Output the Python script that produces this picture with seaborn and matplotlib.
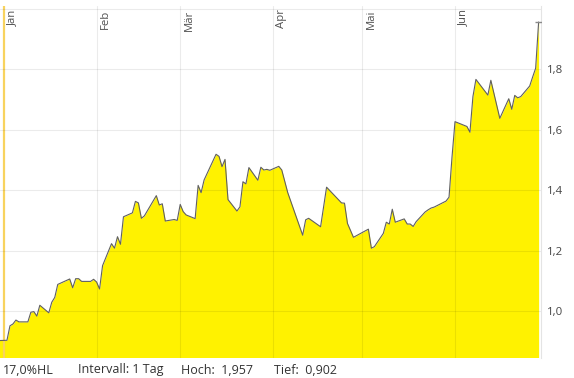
import pandas as pd
import seaborn as sns
import matplotlib.pyplot as plt
import matplotlib.dates as mdates
from matplotlib.transforms import offset_copy

# Kursverlauf (Schlusskurse)
dates = [
    "2022-12-30", "2023-01-02", "2023-01-03", "2023-01-04", "2023-01-05", "2023-01-06",
    "2023-01-09", "2023-01-10", "2023-01-11", "2023-01-12", "2023-01-13",
    "2023-01-16", "2023-01-17", "2023-01-18", "2023-01-19",
    "2023-01-23", "2023-01-24", "2023-01-25", "2023-01-26", "2023-01-27",
    "2023-01-30", "2023-01-31", "2023-02-01", "2023-02-02", "2023-02-03",
    "2023-02-06", "2023-02-07", "2023-02-08", "2023-02-09", "2023-02-10",
    "2023-02-13", "2023-02-14", "2023-02-15", "2023-02-16", "2023-02-17",
    "2023-02-21", "2023-02-22", "2023-02-23", "2023-02-24",
    "2023-02-27", "2023-02-28", "2023-03-01", "2023-03-02", "2023-03-03",
    "2023-03-06", "2023-03-07", "2023-03-08", "2023-03-09",
    "2023-03-13", "2023-03-14", "2023-03-15", "2023-03-16", "2023-03-17",
    "2023-03-20", "2023-03-21", "2023-03-22", "2023-03-23", "2023-03-24",
    "2023-03-27", "2023-03-28", "2023-03-29", "2023-03-30", "2023-03-31",
    "2023-04-03", "2023-04-04", "2023-04-06",
    "2023-04-11", "2023-04-12", "2023-04-13",
    "2023-04-17", "2023-04-19",
    "2023-04-24", "2023-04-25", "2023-04-26", "2023-04-28",
    "2023-05-03", "2023-05-04", "2023-05-05",
    "2023-05-08", "2023-05-09", "2023-05-10", "2023-05-11", "2023-05-12",
    "2023-05-15", "2023-05-16", "2023-05-17", "2023-05-18", "2023-05-19",
    "2023-05-22", "2023-05-23", "2023-05-24", "2023-05-25", "2023-05-26",
    "2023-05-29", "2023-05-30", "2023-05-31", "2023-06-01",
    "2023-06-05", "2023-06-06", "2023-06-07", "2023-06-08",
    "2023-06-12", "2023-06-13", "2023-06-16",
    "2023-06-19", "2023-06-20", "2023-06-21", "2023-06-22", "2023-06-23",
    "2023-06-26", "2023-06-27", "2023-06-28", "2023-06-29",
]
prices = [
    0.902, 0.903, 0.951, 0.957, 0.970, 0.964,
    0.964, 0.996, 0.998, 0.983, 1.019,
    0.994, 1.029, 1.045, 1.088,
    1.106, 1.077, 1.107, 1.107, 1.098,
    1.098, 1.105, 1.096, 1.073, 1.150,
    1.223, 1.208, 1.246, 1.221, 1.312,
    1.325, 1.363, 1.358, 1.307, 1.315,
    1.382, 1.351, 1.355, 1.298,
    1.303, 1.300, 1.353, 1.329, 1.318,
    1.306, 1.416, 1.392, 1.434,
    1.519, 1.512, 1.478, 1.502, 1.369,
    1.331, 1.345, 1.428, 1.421, 1.475,
    1.433, 1.476, 1.467, 1.469, 1.466,
    1.479, 1.467, 1.392,
    1.251, 1.302, 1.307,
    1.279, 1.410,
    1.358, 1.357, 1.290, 1.244,
    1.271, 1.208, 1.213,
    1.257, 1.294, 1.288, 1.337, 1.294,
    1.305, 1.288, 1.288, 1.280, 1.296,
    1.328, 1.335, 1.341, 1.344, 1.349,
    1.364, 1.377, 1.510, 1.627,
    1.611, 1.592, 1.710, 1.767,
    1.715, 1.764, 1.638,
    1.703, 1.668, 1.714, 1.706, 1.710,
    1.745, 1.775, 1.804, 1.957,
]
month_starts = ["2023-02-01", "2023-03-01", "2023-04-01", "2023-05-01", "2023-06-01"]
month_labels = ["Jan", "Feb", "Mär", "Apr", "Mai", "Jun"]
y_ticks = [1.0, 1.2, 1.4, 1.6, 1.8, 2.0]
y_labels = ["1,0", "1,2", "1,4", "1,6", "1,8", ""]
footer = ["17,0%HL", "Intervall: 1 Tag", "Hoch:  1,957", "Tief:  0,902"]
footer_x = [3, 78, 181, 274]

df = pd.DataFrame({"Datum": pd.to_datetime(dates), "Kurs": prices})

sns.set_style("white")
plt.rcParams["font.family"] = ["Open Sans", "DejaVu Sans"]

fig = plt.figure(figsize=(5.74, 3.78), dpi=100)
ax = fig.add_axes([0.0, 20.5 / 378, 541 / 574, 351.5 / 378])

y_bottom = 0.846
ax.fill_between(df["Datum"], df["Kurs"], y_bottom, color="#fff200", lw=0, zorder=1)
sns.lineplot(data=df, x="Datum", y="Kurs", ax=ax, color="#606060", lw=0.8, zorder=3)
ax.plot(df["Datum"].iloc[-1], df["Kurs"].iloc[-1], marker="_", ms=6, mew=1,
        color="#8a8a8a", zorder=4)

jan1 = pd.Timestamp("2023-01-01")
ax.axvline(jan1, color="#f8d35e", lw=1.6, zorder=2)
for m in month_starts:
    ax.axvline(pd.Timestamp(m), color="black", alpha=0.08, lw=0.8, zorder=2.5)
for t in y_ticks:
    ax.axhline(t, color="black", alpha=0.08, lw=0.8, zorder=2.5)

trans = offset_copy(ax.get_xaxis_transform(), fig=fig, x=2.5, y=-2.5, units="points")
for m, lab in zip([jan1] + [pd.Timestamp(m) for m in month_starts], month_labels):
    ax.text(m, 1.0, lab, rotation=90, ha="left", va="top", fontsize=8.2,
            color="#505050", transform=trans)

ax.set_xlim(jan1 - pd.Timedelta(hours=32), pd.Timestamp("2023-06-29 19:00"))
ax.set_ylim(y_bottom, 2.010)
ax.set_xticks([])
ax.set_xlabel("")
ax.set_ylabel("")
ax.yaxis.tick_right()
ax.set_yticks(y_ticks)
ax.set_yticklabels(y_labels)
ax.tick_params(axis="y", length=0, pad=4.5, labelsize=8.2, labelcolor="#444444")
for side in ["left", "top", "bottom"]:
    ax.spines[side].set_visible(False)
ax.spines["right"].set_color("#e4e4e4")
ax.spines["right"].set_linewidth(0.8)

for txt, x in zip(footer, footer_x):
    fig.text(x / 574, 4.5 / 378, txt, ha="left", va="baseline", fontsize=9,
             color="#333333")

fig.savefig("out.png", dpi=100)
